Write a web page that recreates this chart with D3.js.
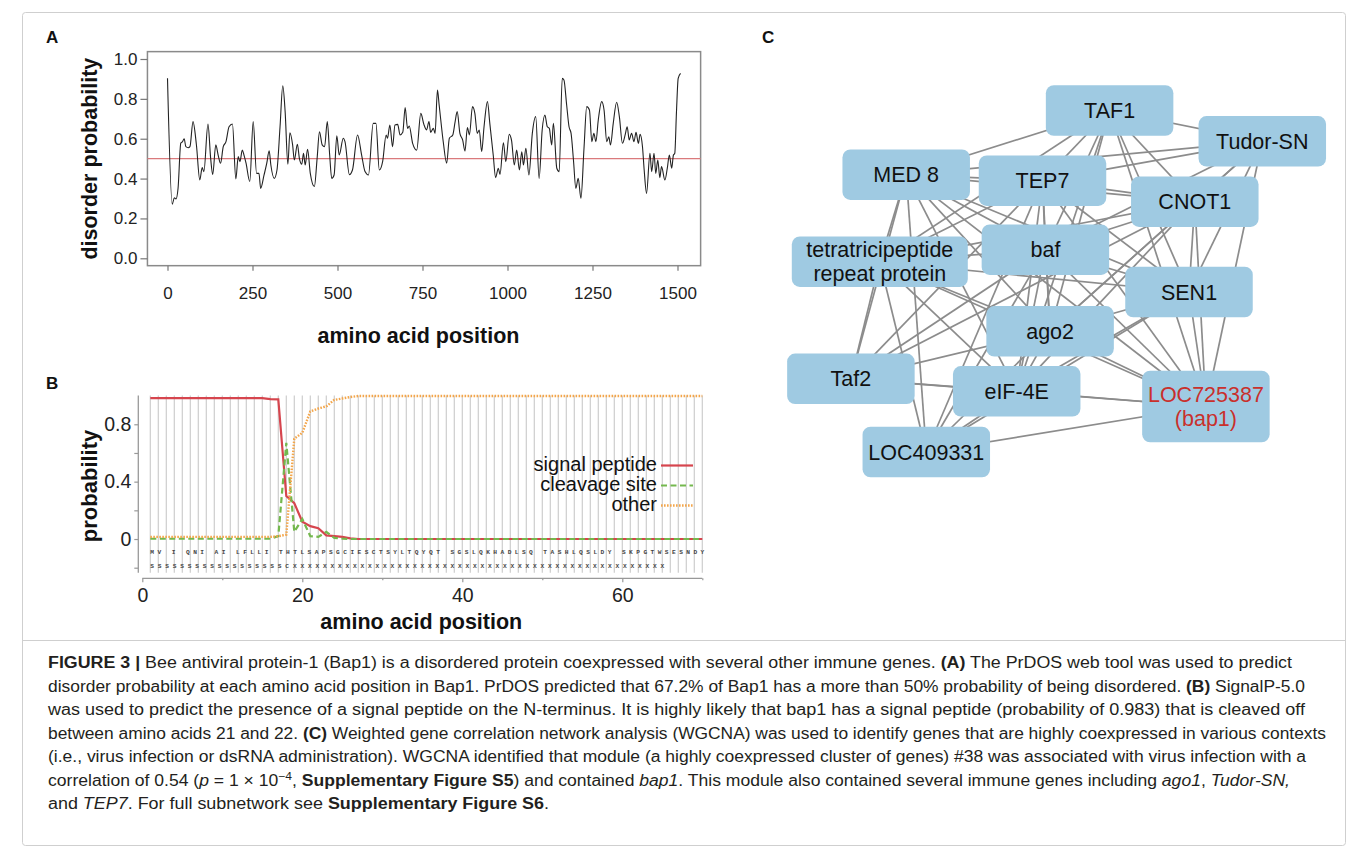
<!DOCTYPE html>
<html lang="en">
<head>
<meta charset="UTF-8">
<title>Figure 3</title>
<script src="https://cdn.jsdelivr.net/npm/d3@7"></script>
<style>
    body { margin: 0; background: #fff; }
    svg { display: block; font-family: "Liberation Sans", Arial, sans-serif; }
</style>
</head>
<body>
<div id="chart"></div>
<script>
    // ---- panel A: PrDOS disorder probability ----
    const disorder = [
        [0, 0.903], [14, 0.271], [20, 0.304], [25, 0.298], [31, 0.35], [39, 0.577], [44, 0.585], [49, 0.60],
        [54, 0.56], [61, 0.555], [66, 0.56], [75, 0.686], [85, 0.57], [95, 0.393], [102, 0.455], [107, 0.435],
        [119, 0.674], [127, 0.50], [133, 0.42], [142, 0.569], [149, 0.518], [156, 0.477], [164, 0.56], [172, 0.585],
        [181, 0.66], [191, 0.674], [201, 0.398], [208, 0.51], [213, 0.485], [220, 0.543], [225, 0.518], [231, 0.477],
        [242, 0.385], [252, 0.686], [262, 0.426], [269, 0.426], [274, 0.351], [284, 0.418], [292, 0.477], [299, 0.54],
        [304, 0.468], [314, 0.401], [322, 0.443], [331, 0.66], [339, 0.866], [346, 0.736], [354, 0.472], [360, 0.63],
        [368, 0.569], [373, 0.493], [382, 0.572], [388, 0.50], [395, 0.472], [400, 0.527], [405, 0.468], [412, 0.547],
        [420, 0.426], [432, 0.36], [440, 0.50], [447, 0.635], [455, 0.569], [462, 0.56], [470, 0.686], [477, 0.518],
        [483, 0.401], [490, 0.418], [498, 0.615], [505, 0.518], [517, 0.602], [522, 0.585], [535, 0.42], [544, 0.443],
        [559, 0.619], [571, 0.518], [581, 0.435], [591, 0.418], [605, 0.677], [613, 0.677], [623, 0.443], [633, 0.488],
        [643, 0.619], [647, 0.602], [654, 0.669], [662, 0.56], [669, 0.669], [677, 0.672], [684, 0.619], [692, 0.632],
        [699, 0.756], [706, 0.652], [711, 0.664], [721, 0.577], [733, 0.543], [745, 0.727], [754, 0.672], [762, 0.644],
        [769, 0.686], [774, 0.632], [782, 0.652], [787, 0.627], [794, 0.844], [799, 0.769], [811, 0.585], [821, 0.477],
        [829, 0.602], [839, 0.619], [846, 0.686], [852, 0.736], [860, 0.627], [868, 0.594], [875, 0.538], [882, 0.656],
        [888, 0.619], [897, 0.761], [904, 0.727], [911, 0.627], [917, 0.644], [924, 0.535], [931, 0.66], [941, 0.786],
        [948, 0.677], [958, 0.518], [965, 0.405], [973, 0.452], [978, 0.421], [988, 0.58], [995, 0.485], [1005, 0.622],
        [1012, 0.59], [1020, 0.468], [1027, 0.543], [1035, 0.443], [1042, 0.535], [1047, 0.468], [1054, 0.552], [1063, 0.418],
        [1073, 0.627], [1083, 0.711], [1093, 0.401], [1102, 0.644], [1110, 0.719], [1117, 0.66], [1123, 0.652], [1130, 0.569],
        [1135, 0.677], [1145, 0.452], [1152, 0.435], [1161, 0.903], [1166, 0.895], [1174, 0.769], [1181, 0.66], [1187, 0.627],
        [1194, 0.493], [1201, 0.351], [1208, 0.401], [1216, 0.301], [1225, 0.552], [1233, 0.761], [1241, 0.744], [1248, 0.585],
        [1254, 0.627], [1260, 0.585], [1267, 0.694], [1277, 0.786], [1284, 0.744], [1292, 0.585], [1298, 0.61], [1303, 0.569],
        [1311, 0.677], [1321, 0.783], [1329, 0.711], [1338, 0.577], [1346, 0.619], [1352, 0.66], [1358, 0.594], [1365, 0.627],
        [1372, 0.585], [1378, 0.632], [1385, 0.577], [1390, 0.622], [1397, 0.56], [1402, 0.443], [1409, 0.326], [1419, 0.527],
        [1424, 0.435], [1431, 0.527], [1436, 0.426], [1442, 0.493], [1448, 0.405], [1453, 0.46], [1463, 0.393], [1470, 0.452],
        [1476, 0.518], [1483, 0.452], [1488, 0.518], [1492, 0.527], [1497, 0.736], [1502, 0.903], [1509, 0.928]
    ];
    const disorderCutoff = 0.5;
    const aXTicks = [0, 250, 500, 750, 1000, 1250, 1500];
    const aYTicks = [0, 0.2, 0.4, 0.6, 0.8, 1.0];

    // ---- panel B: SignalP-5.0 ----
    const residues = [1,2,3,4,5,6,7,8,9,10,11,12,13,14,15,16,17,18,19,20,21,22,23,24,25,26,27,28,29,30,31,32,33,34,35,
        36,37,38,39,40,41,42,43,44,45,46,47,48,49,50,51,52,53,54,55,56,57,58,59,60,61,62,63,64,65,66,67,68,69,70];
    const signalPeptide = [0.983,0.983,0.983,0.983,0.983,0.983,0.983,0.983,0.983,0.983,0.983,0.983,0.983,0.983,0.983,
        0.975,0.974,0.30,0.25,0.12,0.09,0.075,0.025,0.02,0.015,0.005,
        0,0,0,0,0,0,0,0,0,0,0,0,0,0,0,0,0,0,0,0,0,0,0,0,0,0,0,0,0,0,0,0,0,0,0,0,0,0,0,0,0,0,0,0];
    const cleavageSite = [0.002,0.002,0.002,0.002,0.002,0.002,0.002,0.002,0.002,0.002,0.002,0.002,0.002,0.002,0.002,0.002,
        0.02,0.67,0.05,0.14,0.02,0.015,0.05,0.008,0.003,
        0,0,0,0,0,0,0,0,0,0,0,0,0,0,0,0,0,0,0,0,0,0,0,0,0,0,0,0,0,0,0,0,0,0,0,0,0,0,0,0,0,0,0,0,0];
    const otherProb = [0.015,0.015,0.015,0.015,0.015,0.015,0.015,0.015,0.015,0.015,0.015,0.015,0.015,0.015,0.015,0.015,
        0.02,0.03,0.70,0.74,0.89,0.91,0.925,0.97,0.98,0.99,
        0.997,0.997,0.997,0.997,0.997,0.997,0.997,0.997,0.997,0.997,0.997,0.997,0.997,0.997,0.997,0.997,0.997,0.997,
        0.997,0.997,0.997,0.997,0.997,0.997,0.997,0.997,0.997,0.997,0.997,0.997,0.997,0.997,0.997,0.997,0.997,0.997,
        0.997,0.997,0.997,0.997,0.997,0.997,0.997,0.997];
    const seriesNames = ['signal peptide', 'cleavage site', 'other'];
    const sequenceRow = 'MV I QNI AI LFLLI THTLSAPSGCIESCTSYLTQYQT SGSLQKHADLSQ TASHLQSLDY SKPGTWSESNDY';
    const predictionRow = 'SSSSSSSSSSSSSSSSSSCXXXXXXXXXXXXXXXXXXXXXXXXXXXXXXXXXXXXXXXXXXXXXXXXXX';
    const bXTicks = [0, 20, 40, 60];
    const bXMinor = [10, 30, 50, 70];
    const bYTicks = [-0.2, 0, 0.2, 0.4, 0.6, 0.8];
    const bYLabelled = [0, 0.4, 0.8];

    // ---- panel C: WGCNA module #38 ----
    const nodeIds = ['TAF1', 'TudorSN', 'MED8', 'TEP7', 'CNOT1', 'TPR', 'baf', 'SEN1', 'ago2', 'Taf2', 'eIF4E', 'bap1', 'LOC409331'];
    const nodeLabels = ['TAF1', 'Tudor-SN', 'MED 8', 'TEP7', 'CNOT1', 'tetratricipeptide|repeat protein', 'baf', 'SEN1',
        'ago2', 'Taf2', 'eIF-4E', 'LOC725387|(bap1)', 'LOC409331'];
    // layout coordinates of the node centres (network layout units)
    const nodeLayout = [[339.6, 30.5], [492.3, 61.3], [136.2, 94.7], [272.5, 100.7], [424.8, 121.7], [109.8, 181.7],
        [275.4, 169.7], [419, 212], [280.1, 251.3], [80.9, 298.8], [246.7, 311.3], [435.9, 326.5], [156.3, 372]];
    const edges = [
        ['TAF1','MED8'], ['TAF1','TudorSN'], ['TAF1','TEP7'], ['TAF1','CNOT1'], ['TAF1','TPR'], ['TAF1','baf'],
        ['TAF1','SEN1'], ['TAF1','ago2'], ['TAF1','eIF4E'], ['TAF1','bap1'],
        ['TudorSN','MED8'], ['TudorSN','TEP7'], ['TudorSN','CNOT1'], ['TudorSN','baf'], ['TudorSN','SEN1'],
        ['TudorSN','ago2'], ['TudorSN','bap1'],
        ['MED8','TEP7'], ['MED8','CNOT1'], ['MED8','TPR'], ['MED8','baf'], ['MED8','SEN1'], ['MED8','ago2'],
        ['MED8','eIF4E'], ['MED8','bap1'], ['MED8','Taf2'], ['MED8','LOC409331'],
        ['TEP7','CNOT1'], ['TEP7','TPR'], ['TEP7','baf'], ['TEP7','SEN1'], ['TEP7','ago2'], ['TEP7','eIF4E'],
        ['TEP7','bap1'], ['TEP7','Taf2'], ['TEP7','LOC409331'],
        ['CNOT1','TPR'], ['CNOT1','baf'], ['CNOT1','SEN1'], ['CNOT1','ago2'], ['CNOT1','eIF4E'], ['CNOT1','bap1'],
        ['CNOT1','Taf2'],
        ['TPR','baf'], ['TPR','SEN1'], ['TPR','ago2'], ['TPR','eIF4E'], ['TPR','bap1'], ['TPR','Taf2'], ['TPR','LOC409331'],
        ['baf','SEN1'], ['baf','ago2'], ['baf','eIF4E'], ['baf','bap1'], ['baf','Taf2'], ['baf','LOC409331'],
        ['SEN1','ago2'], ['SEN1','eIF4E'], ['SEN1','bap1'], ['SEN1','LOC409331'],
        ['ago2','eIF4E'], ['ago2','bap1'], ['ago2','Taf2'], ['ago2','LOC409331'],
        ['eIF4E','bap1'], ['eIF4E','Taf2'], ['eIF4E','LOC409331'],
        ['bap1','LOC409331'], ['bap1','Taf2']
    ];

    // ---- caption ----
    const captionLines = [
        [['FIGURE 3 | ', 'b'], ['Bee antiviral protein-1 (Bap1) is a disordered protein coexpressed with several other immune genes. ', ''], ['(A)', 'b'], [' The PrDOS web tool was used to predict', '']],
        [['disorder probability at each amino acid position in Bap1. PrDOS predicted that 67.2% of Bap1 has a more than 50% probability of being disordered. ', ''], ['(B)', 'b'], [' SignalP-5.0', '']],
        [['was used to predict the presence of a signal peptide on the N-terminus. It is highly likely that bap1 has a signal peptide (probability of 0.983) that is cleaved off', '']],
        [['between amino acids 21 and 22. ', ''], ['(C)', 'b'], [' Weighted gene correlation network analysis (WGCNA) was used to identify genes that are highly coexpressed in various contexts', '']],
        [['(i.e., virus infection or dsRNA administration). WGCNA identified that module (a highly coexpressed cluster of genes) #38 was associated with virus infection with a', '']],
        [['correlation of 0.54 (', ''], ['p', 'i'], [' = 1 \u00d7 10', ''], ['\u22124', 'sup'], [', ', ''], ['Supplementary Figure S5', 'b'], [') and contained ', ''], ['bap1', 'i'], ['. This module also contained several immune genes including ', ''], ['ago1', 'i'], [', ', ''], ['Tudor-SN,', 'i']],
        [['and ', ''], ['TEP7', 'i'], ['. For full subnetwork see ', ''], ['Supplementary Figure S6', 'b'], ['.', '']]
    ];
    const captionLineEnds = [1292, 1305, 1305, 1326, 1306, 1290, 549];

    // ---------------------------------------------------------------

    const svg = d3.select('#chart')
        .append('svg')
        .attr('width', 1360)
        .attr('height', 848);

    // figure box
    svg.append('rect')
        .attr('x', 22.5).attr('y', 12.5)
        .attr('width', 1323).attr('height', 833)
        .attr('rx', 3)
        .attr('fill', 'none')
        .attr('stroke', '#cfcfcf');
    svg.append('line')
        .attr('x1', 22.5).attr('x2', 1345.5)
        .attr('y1', 640.5).attr('y2', 640.5)
        .attr('stroke', '#cfcfcf');

    const panelLabel = (x, y, t) => svg.append('text')
        .attr('x', x).attr('y', y)
        .attr('font-size', 17).attr('font-weight', 'bold')
        .attr('fill', '#111')
        .text(t);
    panelLabel(46, 43, 'A');
    panelLabel(46, 389, 'B');
    panelLabel(762, 43, 'C');

    // ---- A ----
    const xA = d3.scaleLinear().domain([0, 1500]).range([167.5, 677.5]);
    const yA = d3.scaleLinear().domain([0, 1]).range([258.3, 59]);
    const gA = svg.append('g');

    const aLeft = xA(-59), aRight = xA(1568), aTop = yA(1.037), aBottom = yA(-0.037);

    gA.append('rect')
        .attr('x', aLeft).attr('y', aTop)
        .attr('width', aRight - aLeft).attr('height', aBottom - aTop)
        .attr('fill', 'none')
        .attr('stroke', '#8a8a8a')
        .attr('stroke-width', 1.5);

    gA.append('g')
        .attr('transform', `translate(${aLeft},0)`)
        .call(d3.axisLeft(yA).tickValues(aYTicks).tickFormat(d3.format('.1f')).tickSize(7).tickPadding(3))
        .call(g => g.select('.domain').remove());

    gA.append('g')
        .attr('transform', `translate(0,${aBottom})`)
        .call(d3.axisBottom(xA).tickValues(aXTicks).tickFormat(d3.format('d')).tickSize(5).tickPadding(16))
        .call(g => g.select('.domain').remove());

    gA.selectAll('.tick line').attr('stroke', '#777').attr('stroke-width', 1.2);
    gA.selectAll('.tick text')
        .attr('font-family', '"Liberation Sans", Arial, sans-serif')
        .attr('font-size', 17)
        .attr('fill', '#222');

    gA.append('line')
        .attr('x1', aLeft).attr('x2', aRight)
        .attr('y1', yA(disorderCutoff)).attr('y2', yA(disorderCutoff))
        .attr('stroke', '#da7a7c')
        .attr('stroke-width', 1.3);

    const lineA = d3.line()
        .x(d => xA(d[0]))
        .y(d => yA(d[1]))
        .curve(d3.curveMonotoneX);

    gA.append('path')
        .attr('d', lineA(disorder))
        .attr('fill', 'none')
        .attr('stroke', '#222')
        .attr('stroke-width', 1.1);

    gA.append('text')
        .attr('transform', `translate(97,${yA(0.5)}) rotate(-90)`)
        .attr('text-anchor', 'middle')
        .attr('font-size', 21.5).attr('font-weight', 'bold')
        .attr('fill', '#111')
        .text('disorder probability');

    gA.append('text')
        .attr('x', xA(750) - 4).attr('y', 343)
        .attr('text-anchor', 'middle')
        .attr('font-size', 21.5).attr('font-weight', 'bold')
        .attr('fill', '#111')
        .text('amino acid position');

    // ---- B ----
    const xB = d3.scaleLinear().domain([0, 70]).range([142.3, 702.3]);
    const yB = d3.scaleLinear().domain([-0.2, 1.0]).range([567.7, 395.6]);
    const gB = svg.append('g');

    const bAxisX = 138.3, bAxisY = 578.3, bLow = -0.235;

    gB.selectAll('line.grid')
        .data(residues)
        .enter()
        .append('line')
        .attr('class', 'grid')
        .attr('x1', d => xB(d)).attr('x2', d => xB(d))
        .attr('y1', yB(1.0)).attr('y2', yB(bLow))
        .attr('stroke', '#cdcdcd')
        .attr('stroke-width', 1.2);

    gB.append('text')
        .attr('x', xB(1)).attr('y', 554)
        .attr('font-family', '"Liberation Mono", monospace')
        .attr('font-size', 6.2)
        .attr('font-weight', 'bold')
        .attr('fill', '#444')
        .attr('textLength', 554)
        .attr('lengthAdjust', 'spacing')
        .text(sequenceRow);

    gB.append('text')
        .attr('x', xB(1)).attr('y', 568)
        .attr('font-family', '"Liberation Mono", monospace')
        .attr('font-size', 6.2)
        .attr('font-weight', 'bold')
        .attr('fill', '#444')
        .attr('textLength', 514)
        .attr('lengthAdjust', 'spacing')
        .text(predictionRow);

    // y axis
    gB.append('line')
        .attr('x1', bAxisX).attr('x2', bAxisX)
        .attr('y1', yB(1.0)).attr('y2', yB(bLow))
        .attr('stroke', '#999').attr('stroke-width', 1.3);
    gB.append('g')
        .attr('transform', `translate(${bAxisX},0)`)
        .call(d3.axisLeft(yB).tickValues(bYTicks)
            .tickFormat(d => bYLabelled.includes(d) ? d3.format('.1~f')(d) : '')
            .tickSize(4).tickPadding(3))
        .call(g => g.select('.domain').remove());

    // x axis
    gB.append('line')
        .attr('x1', xB(0)).attr('x2', xB(70))
        .attr('y1', bAxisY).attr('y2', bAxisY)
        .attr('stroke', '#999').attr('stroke-width', 1.3);
    gB.append('g')
        .attr('transform', `translate(0,${bAxisY})`)
        .call(d3.axisBottom(xB).tickValues(bXTicks).tickSize(4).tickPadding(6))
        .call(g => g.select('.domain').remove());
    gB.append('g')
        .attr('transform', `translate(0,${bAxisY})`)
        .call(d3.axisBottom(xB).tickValues(bXMinor).tickSize(2).tickFormat(''))
        .call(g => g.select('.domain').remove());

    gB.selectAll('.tick line').attr('stroke', '#999').attr('stroke-width', 1.2);
    gB.selectAll('.tick text')
        .attr('font-family', '"Liberation Sans", Arial, sans-serif')
        .attr('font-size', 19.5)
        .attr('fill', '#222');

    const seriesB = [signalPeptide, cleavageSite, otherProb];
    const colorB = d3.scaleOrdinal().domain(seriesNames).range(['#d6454e', '#74b84e', '#f3a64b']);
    const dashB = d3.scaleOrdinal().domain(seriesNames).range(['none', '6,3.5', '1.6,1.4']);

    const lineB = d3.line()
        .x((d, i) => xB(residues[i]))
        .y(d => yB(d));

    gB.selectAll('path.series')
        .data(seriesB)
        .enter()
        .append('path')
        .attr('class', 'series')
        .attr('d', d => lineB(d))
        .attr('fill', 'none')
        .attr('stroke', (d, i) => colorB(seriesNames[i]))
        .attr('stroke-dasharray', (d, i) => dashB(seriesNames[i]))
        .attr('stroke-width', (d, i) => i === 2 ? 2.4 : 2.2);

    const legend = gB.append('g')
        .selectAll('g')
        .data(seriesNames)
        .enter()
        .append('g')
        .attr('transform', (d, i) => `translate(0,${465.5 + i * 20})`);
    legend.append('line')
        .attr('x1', 661).attr('x2', 693)
        .attr('stroke', d => colorB(d))
        .attr('stroke-dasharray', d => dashB(d))
        .attr('stroke-width', (d, i) => i === 2 ? 2.4 : 2.2);
    legend.append('text')
        .attr('x', 657).attr('y', 5.5)
        .attr('text-anchor', 'end')
        .attr('font-size', 20)
        .attr('fill', '#111')
        .text(d => d);

    gB.append('text')
        .attr('transform', `translate(97,${yB(0.37)}) rotate(-90)`)
        .attr('text-anchor', 'middle')
        .attr('font-size', 22).attr('font-weight', 'bold')
        .attr('fill', '#111')
        .text('probability');

    gB.append('text')
        .attr('x', xB(35) - 1).attr('y', 629)
        .attr('text-anchor', 'middle')
        .attr('font-size', 21.5).attr('font-weight', 'bold')
        .attr('fill', '#111')
        .text('amino acid position');

    // ---- C ----
    const xC = d3.scaleLinear().domain([0, 560]).range([770, 1330]);
    const yC = d3.scaleLinear().domain([0, 420]).range([80, 500]);
    const gC = svg.append('g');

    const nodes = nodeIds.map((id, i) => ({id, label: nodeLabels[i], x: xC(nodeLayout[i][0]), y: yC(nodeLayout[i][1])}));
    const byId = new Map(nodes.map(n => [n.id, n]));
    const nodeWidth = id => id === 'TPR' ? 176 : 127.5;
    const nodeHeight = id => id === 'bap1' ? 71.6 : 50.5;

    gC.selectAll('line.edge')
        .data(edges)
        .enter()
        .append('line')
        .attr('class', 'edge')
        .attr('x1', d => byId.get(d[0]).x).attr('y1', d => byId.get(d[0]).y)
        .attr('x2', d => byId.get(d[1]).x).attr('y2', d => byId.get(d[1]).y)
        .attr('stroke', '#8c8c8c')
        .attr('stroke-width', 1.7);

    const node = gC.selectAll('g.node')
        .data(nodes)
        .enter()
        .append('g')
        .attr('class', 'node')
        .attr('transform', d => `translate(${d.x},${d.y})`);

    node.append('rect')
        .attr('x', d => -nodeWidth(d.id) / 2)
        .attr('y', d => -nodeHeight(d.id) / 2)
        .attr('width', d => nodeWidth(d.id))
        .attr('height', d => nodeHeight(d.id))
        .attr('rx', 8).attr('ry', 8)
        .attr('fill', '#9fcae2');

    node.append('text')
        .attr('text-anchor', 'middle')
        .attr('font-size', 21.5)
        .attr('fill', d => d.id === 'bap1' ? '#c9302c' : '#111')
        .selectAll('tspan')
        .data(d => d.label.split('|').map((t, i, a) => ({t, i, n: a.length})))
        .enter()
        .append('tspan')
        .attr('x', 0)
        .attr('y', d => 7.5 + (d.i - (d.n - 1) / 2) * 24)
        .text(d => d.t);

    // ---- caption ----
    const gCap = svg.append('g');
    captionLines.forEach((segs, li) => {
        const t = gCap.append('text')
            .attr('x', 48)
            .attr('y', 668 + li * 23.5)
            .attr('font-size', 16)
            .attr('fill', '#231f20');
        segs.forEach(s => {
            const ts = t.append('tspan').text(s[0]);
            if (s[1] === 'b') ts.attr('font-weight', 'bold');
            if (s[1] === 'i') ts.attr('font-style', 'italic');
            if (s[1] === 'sup') ts.attr('font-size', 11).attr('baseline-shift', 'super');
        });
        t.attr('textLength', captionLineEnds[li] - 48).attr('lengthAdjust', 'spacingAndGlyphs');
    });
</script>
</body>
</html>
